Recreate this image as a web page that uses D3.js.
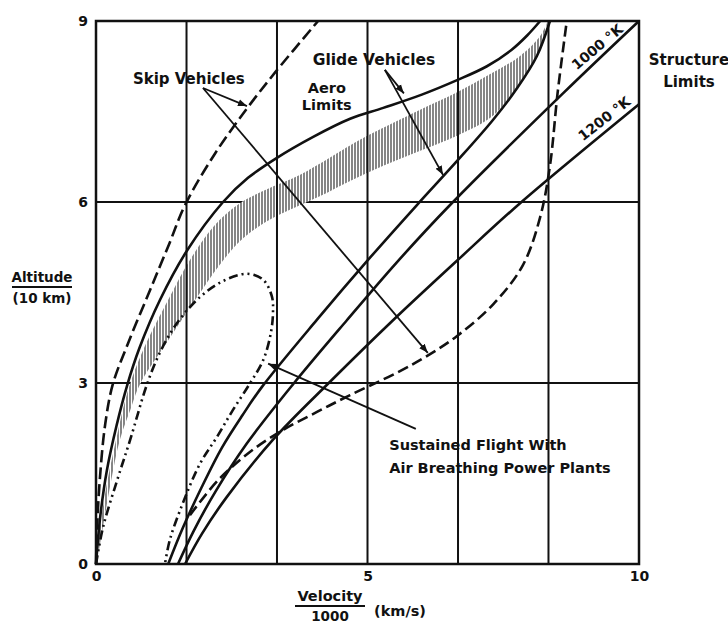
<!DOCTYPE html>
<html lang="en">
<head>
<meta charset="UTF-8">
<script src="https://cdn.jsdelivr.net/npm/d3@7"></script>
<title>Flight Corridor</title>
<style>
body { margin: 0; background: #fff; }
svg text { font-family: "DejaVu Sans", sans-serif; font-weight: bold; fill: #111; }
</style>
</head>
<body>
<div id="chart"></div>
<script>
// values: velocity/1000 (km/s) against altitude/(10 km)
const xTicks = [0, 5, 10];
const yTicks = [0, 3, 6, 9];
const xGrid = [1.667, 3.333, 5, 6.667, 8.333];
const yGrid = [3, 6];

// skip vehicles, upper dashed boundary
const skipUpper = [[0,0],[0.02,0.6],[0.07,1.4],[0.17,2.32],[0.31,2.98],[0.6,3.68],[1.0,4.55],[1.35,5.31],[1.64,5.95],[2.19,6.8],[2.78,7.55],[3.31,8.16],[4.09,9.0]];
// aero limits (glide vehicles, upper)
const aeroLimit = [[0,0],[0.08,0.8],[0.2,1.55],[0.38,2.3],[0.57,2.95],[0.8,3.58],[1.18,4.38],[1.68,5.2],[2.34,6.0],[2.8,6.4],[3.31,6.72],[4.0,7.08],[4.68,7.38],[5.29,7.56],[6.0,7.78],[6.65,8.02],[7.2,8.25],[7.65,8.52],[7.94,8.76],[8.18,9.0]];
// hatched glide corridor
const bandUpper = [[0.02,0.27],[0.18,1.23],[0.37,2.06],[0.59,2.88],[0.87,3.55],[1.33,4.38],[1.73,5.04],[2.19,5.62],[2.65,5.98],[3.20,6.23],[3.76,6.45],[4.86,7.03],[5.29,7.23],[5.97,7.53],[6.65,7.82],[7.26,8.12],[7.81,8.42],[8.18,8.75],[8.32,9.0]];
const bandLower = [[0.02,0.03],[0.15,0.73],[0.28,1.39],[0.44,2.06],[0.63,2.55],[0.81,2.98],[1.31,3.68],[1.86,4.42],[2.28,4.96],[2.65,5.35],[3.11,5.66],[3.57,5.87],[4.13,6.1],[4.68,6.35],[5.29,6.6],[5.97,6.85],[6.65,7.1],[7.31,7.43],[7.75,7.9],[8.12,8.42],[8.32,9.0]];
// glide vehicles, lower boundary
const glideLower = [[1.33,0],[1.6,0.6],[1.95,1.28],[2.32,1.93],[2.7,2.47],[3.06,2.94],[4.07,4.05],[4.99,5.02],[5.91,5.95],[6.65,6.68],[7.31,7.36],[7.75,7.88],[8.12,8.42],[8.36,9.0]];
// structure limits
const limit1000 = [[1.51,0],[1.8,0.55],[2.2,1.2],[2.78,2.0],[3.63,2.98],[4.62,4.04],[5.54,5.0],[6.52,5.95],[8.6,7.8],[10,9.0]];
const limit1200 = [[1.64,0],[1.95,0.5],[2.4,1.1],[3.26,2.06],[4.31,3.02],[5.47,4.04],[6.70,5.07],[7.81,5.98],[10,7.62]];
// skip vehicles, lower dashed boundary
const skipLower = [[1.73,0.81],[2.25,1.39],[2.84,1.86],[3.44,2.22],[4.07,2.52],[4.68,2.8],[5.54,3.17],[6.10,3.45],[6.65,3.78],[7.31,4.3],[7.86,4.95],[8.18,5.75],[8.36,6.6],[8.5,7.8],[8.67,9.0]];
// sustained flight with air breathing power plants (closed loop)
const sustained = [[0,0],[0.13,0.61],[0.39,1.39],[0.63,2.06],[0.94,2.98],[1.18,3.51],[1.49,3.99],[1.92,4.43],[2.34,4.69],[2.78,4.81],[3.08,4.71],[3.24,4.43],[3.26,4.18],[3.22,3.83],[3.08,3.38],[2.84,3.0],[2.52,2.55],[2.23,2.11],[1.92,1.67],[1.60,1.01],[1.36,0.40],[1.27,0]];

// annotation leaders: [from, to]
const skipArrows = [[[1.97,7.89],[2.78,7.59]], [[1.97,7.89],[6.11,3.50]]];
const glideArrows = [[[5.32,8.19],[5.67,7.80]], [[5.32,8.19],[6.39,6.45]]];
const sustainedArrow = [[[5.89,2.24],[3.17,3.32]]];

const width = 728;
const height = 624;

const x = d3.scaleLinear().domain([0, 10]).range([96, 639]);
const y = d3.scaleLinear().domain([0, 9]).range([564, 21]);

const svg = d3.select('#chart')
  .append('svg')
  .attr('width', width)
  .attr('height', height);

svg.append('rect').attr('width', width).attr('height', height).attr('fill', '#fff');

const defs = svg.append('defs');
const hatch = defs.append('pattern')
  .attr('id', 'hatch')
  .attr('patternUnits', 'userSpaceOnUse')
  .attr('width', 3)
  .attr('height', 10);
hatch.append('rect').attr('width', 3).attr('height', 10).attr('fill', '#fff');
hatch.append('line')
  .attr('x1', 1).attr('x2', 1).attr('y1', 0).attr('y2', 10)
  .attr('stroke', '#444').attr('stroke-width', 1.3);

defs.append('marker')
  .attr('id', 'arrow')
  .attr('viewBox', '0 0 10 8')
  .attr('refX', 9).attr('refY', 4)
  .attr('markerWidth', 10).attr('markerHeight', 8)
  .attr('markerUnits', 'userSpaceOnUse')
  .attr('orient', 'auto')
  .append('path')
  .attr('d', 'M0,0.5 L9,4 L0,7.5 Z')
  .attr('fill', '#111');

const line = d3.line()
  .x(d => x(d[0]))
  .y(d => y(d[1]))
  .curve(d3.curveCatmullRom.alpha(0.5));

const straight = d3.line().x(d => x(d[0])).y(d => y(d[1]));

// horizontal grid first, the hatched band covers it
svg.selectAll('.hgrid')
  .data(yGrid)
  .enter()
  .append('line')
  .attr('x1', x(0)).attr('x2', x(10))
  .attr('y1', d => y(d)).attr('y2', d => y(d))
  .attr('stroke', '#111').attr('stroke-width', 2);

svg.append('path')
  .attr('d', line(bandUpper.concat(bandLower.slice().reverse())) + 'Z')
  .attr('fill', 'url(#hatch)');

svg.selectAll('.vgrid')
  .data(xGrid)
  .enter()
  .append('line')
  .attr('x1', d => x(d)).attr('x2', d => x(d))
  .attr('y1', y(0)).attr('y2', y(9))
  .attr('stroke', '#111').attr('stroke-width', 2);

svg.append('rect')
  .attr('x', x(0)).attr('y', y(9))
  .attr('width', x(10) - x(0)).attr('height', y(0) - y(9))
  .attr('fill', 'none').attr('stroke', '#111').attr('stroke-width', 2.5);

// curves
const curves = [
  { data: skipUpper, dash: '12,5' },
  { data: aeroLimit, dash: null },
  { data: glideLower, dash: null },
  { data: limit1000, dash: null },
  { data: limit1200, dash: null },
  { data: skipLower, dash: '11,5' },
  { data: sustained, dash: '9,4,2,4,2,4' }
];

svg.selectAll('.curve')
  .data(curves)
  .enter()
  .append('path')
  .attr('d', d => line(d.data))
  .attr('fill', 'none')
  .attr('stroke', '#111')
  .attr('stroke-width', 2.6)
  .attr('stroke-dasharray', d => d.dash);

// leader arrows
svg.selectAll('.leader')
  .data(skipArrows.concat(glideArrows, sustainedArrow))
  .enter()
  .append('path')
  .attr('d', d => straight(d))
  .attr('fill', 'none')
  .attr('stroke', '#111')
  .attr('stroke-width', 1.8)
  .attr('marker-end', 'url(#arrow)');

// axes
const xAxis = svg.append('g')
  .attr('transform', 'translate(0,' + y(0) + ')')
  .call(d3.axisBottom(x).tickValues(xTicks).tickSize(0).tickPadding(7).tickFormat(d3.format('d')));
const yAxis = svg.append('g')
  .attr('transform', 'translate(' + x(0) + ',0)')
  .call(d3.axisLeft(y).tickValues(yTicks).tickSize(0).tickPadding(8).tickFormat(d3.format('d')));
[xAxis, yAxis].forEach(a => {
  a.select('.domain').remove();
  a.selectAll('text').style('font-size', '14px');
});

function label(txt, v, h, size, anchor, rotate) {
  const t = svg.append('text')
    .attr('text-anchor', anchor || 'middle')
    .style('font-size', size + 'px')
    .text(txt);
  if (rotate) {
    t.attr('transform', 'translate(' + x(v) + ',' + y(h) + ') rotate(' + rotate + ')')
      .attr('dy', '0.35em');
  } else {
    t.attr('x', x(v)).attr('y', y(h));
  }
  return t;
}

label('Skip Vehicles', 1.71, 7.96, 15);
label('Glide Vehicles', 5.12, 8.27, 15.5);
label('Aero', 4.25, 7.81, 14.5);
label('Limits', 4.25, 7.53, 14.5);
label('Structure', 10.92, 8.27, 15);
label('Limits', 10.92, 7.91, 15);
label('1000 °K', 9.23, 8.57, 14, 'middle', -40);
label('1200 °K', 9.36, 7.38, 14, 'middle', -38);
label('Sustained Flight With', 5.40, 1.89, 14.5, 'start');
label('Air Breathing Power Plants', 5.40, 1.51, 14.5, 'start');

// axis titles written as fractions
svg.append('text').attr('x', 42).attr('y', 282).attr('text-anchor', 'middle')
  .style('font-size', '13.5px').text('Altitude');
svg.append('line').attr('x1', 12).attr('x2', 72).attr('y1', 287).attr('y2', 287)
  .attr('stroke', '#111').attr('stroke-width', 2);
svg.append('text').attr('x', 42).attr('y', 303).attr('text-anchor', 'middle')
  .style('font-size', '13.5px').text('(10 km)');

svg.append('text').attr('x', 330).attr('y', 601).attr('text-anchor', 'middle')
  .style('font-size', '14.5px').text('Velocity');
svg.append('line').attr('x1', 295).attr('x2', 365).attr('y1', 606).attr('y2', 606)
  .attr('stroke', '#111').attr('stroke-width', 2);
svg.append('text').attr('x', 330).attr('y', 621).attr('text-anchor', 'middle')
  .style('font-size', '13.5px').text('1000');
svg.append('text').attr('x', 374).attr('y', 616)
  .style('font-size', '14.5px').text('(km/s)');
</script>
</body>
</html>
